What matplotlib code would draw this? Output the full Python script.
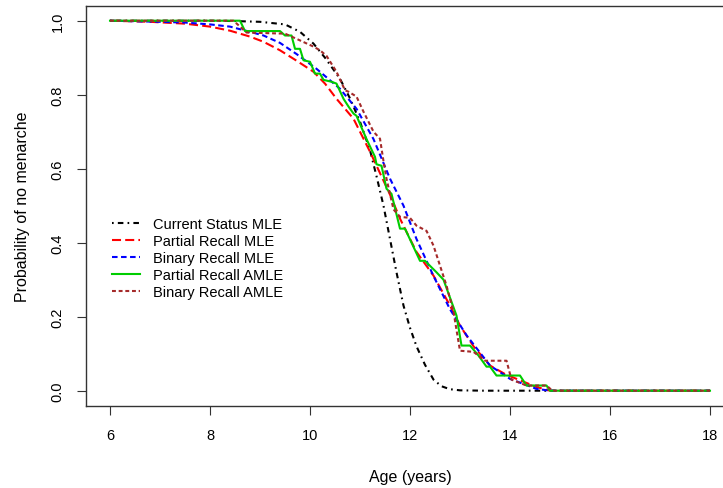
import matplotlib
matplotlib.use("Agg")
import matplotlib.pyplot as plt

plt.rcParams['font.family'] = ['Liberation Sans', 'DejaVu Sans']
plt.rcParams['lines.scale_dashes'] = False

# Current Status MLE
cs_age = [6, 8, 8.5, 9, 9.5, 9.8, 10.07, 10.3, 10.6, 10.8, 11.0, 11.2, 11.33, 11.47,
          11.6, 11.73, 11.87, 12.0, 12.13, 12.3, 12.47, 12.63, 12.8, 13.0, 13.5, 18]
cs_p = [1.0, 1.0, 0.999, 0.997, 0.99, 0.97, 0.938, 0.90, 0.843, 0.79, 0.727, 0.65, 0.58, 0.50,
        0.41, 0.32, 0.23, 0.17, 0.12, 0.07, 0.03, 0.012, 0.004, 0.001, 0.0, 0.0]

# Partial Recall MLE
pr_age = [6, 6.8, 7.5, 8.0, 8.4, 8.8, 9.07, 9.4, 9.73, 10.07, 10.3, 10.53, 10.87, 11.2,
          11.6, 11.8, 12.13, 12.47, 12.8, 13.0, 13.27, 13.6, 13.9, 14.13, 14.53, 14.8, 18]
pr_p = [1.0, 0.997, 0.992, 0.984, 0.973, 0.957, 0.943, 0.92, 0.892, 0.862, 0.83, 0.789, 0.735, 0.646,
        0.53, 0.465, 0.375, 0.311, 0.23, 0.176, 0.12, 0.068, 0.045, 0.032, 0.01, 0.0, 0.0]

# Binary Recall MLE
br_age = [6, 7, 7.5, 8.0, 8.4, 8.8, 9.07, 9.4, 9.73, 10.13, 10.6, 10.93, 11.27, 11.6, 11.87,
          12.13, 12.47, 12.8, 13.13, 13.6, 14.0, 14.53, 14.8, 18]
br_p = [1.0, 0.997, 0.995, 0.99, 0.984, 0.97, 0.96, 0.94, 0.91, 0.87, 0.816, 0.762, 0.68, 0.573, 0.5,
        0.41, 0.31, 0.22, 0.15, 0.068, 0.032, 0.005, 0.0, 0.0]

# Partial Recall AMLE
pa_age = [6, 8.6, 8.7, 9.4, 9.5, 9.63, 9.7, 9.8, 9.87, 10.0, 10.1, 10.2, 10.27, 10.43, 10.53,
          10.67, 10.77, 10.87, 10.93, 11.13, 11.3, 11.33, 11.43, 11.53, 11.63, 11.8, 11.9, 12.2,
          12.3, 12.53, 12.67, 12.93, 13.03, 13.2, 13.37, 13.53, 13.6, 13.73, 14.2, 14.33, 14.73,
          14.8, 18]
pa_p = [1.0, 1.0, 0.972, 0.972, 0.96, 0.96, 0.924, 0.924, 0.893, 0.889, 0.857, 0.857, 0.84, 0.835, 0.83,
        0.789, 0.768, 0.749, 0.743, 0.68, 0.632, 0.612, 0.608, 0.546, 0.532, 0.438, 0.438, 0.351,
        0.351, 0.32, 0.30, 0.203, 0.122, 0.122, 0.095, 0.065, 0.065, 0.041, 0.041, 0.014, 0.014,
        0.0, 0.0]

# Binary Recall AMLE
ba_age = [6, 8.47, 8.73, 9.5, 9.73, 10.07, 10.2, 10.33, 10.53, 10.7, 10.77, 10.93, 11.07, 11.27,
          11.4, 11.47, 11.53, 11.67, 11.8, 12.0, 12.13, 12.33, 12.47, 12.6, 12.73, 12.87, 13.0,
          13.27, 13.5, 13.93, 14.03, 14.33, 14.73, 14.85, 18]
ba_p = [1.0, 1.0, 0.968, 0.965, 0.951, 0.93, 0.92, 0.905, 0.862, 0.812, 0.808, 0.795, 0.754, 0.70,
        0.681, 0.62, 0.573, 0.49, 0.47, 0.467, 0.446, 0.432, 0.392, 0.338, 0.284, 0.213, 0.108,
        0.105, 0.081, 0.081, 0.03, 0.014, 0.014, 0.0, 0.0]

labels = ["Current Status MLE", "Partial Recall MLE", "Binary Recall MLE",
          "Partial Recall AMLE", "Binary Recall AMLE"]
x_ticks = [6, 8, 10, 12, 14, 16, 18]
y_ticks = [0.0, 0.2, 0.4, 0.6, 0.8, 1.0]
y_tick_labels = ["0.0", "0.2", "0.4", "0.6", "0.8", "1.0"]

W, H = 723, 489
fig = plt.figure(figsize=(W / 100, H / 100), dpi=100)
ax = fig.add_axes([86 / W, 1 - 406.5 / H, (734 - 86) / W, (406.5 - 6.9) / H])

lw = 1.5
ax.plot(cs_age, cs_p, color='black', lw=lw, dashes=(1.2, 3.0, 4.0, 3.0), label=labels[0])
ax.plot(pr_age, pr_p, color='#FF0000', lw=lw, dashes=(6.5, 3.0), label=labels[1])
ax.plot(br_age, br_p, color='#0000FF', lw=lw, dashes=(4.0, 2.5), label=labels[2])
ax.plot(pa_age, pa_p, color='#00CD00', lw=lw, label=labels[3])
ax.plot(ba_age, ba_p, color='#A52A2A', lw=lw, dashes=(2.8, 2.0), label=labels[4])

ax.set_xlim(5.52, 18.48)
ax.set_ylim(-0.04, 1.04)
ax.set_xticks(x_ticks)
ax.set_xticklabels([str(t) for t in x_ticks])
ax.set_yticks(y_ticks)
ax.set_yticklabels(y_tick_labels, rotation=90, va='center')
ax.tick_params(axis='both', length=6.5, width=0.8, labelsize=10.5, color='#333333')
ax.tick_params(axis='x', pad=10)
ax.tick_params(axis='y', pad=9)
for s in ax.spines.values():
    s.set_linewidth(1.0)
    s.set_color('#333333')

ax.set_xlabel("Age (years)", fontsize=11.5, labelpad=19)
ax.set_ylabel("Probability of no menarche", fontsize=11.5, labelpad=15)

leg = ax.legend(loc='upper left', bbox_to_anchor=(112 / W, 1 - 218 / H),
                bbox_transform=fig.transFigure, frameon=False, fontsize=10.5,
                handlelength=1.9, handletextpad=0.9, labelspacing=0.2,
                borderpad=0, borderaxespad=0)

fig.savefig("out.png", dpi=100)
